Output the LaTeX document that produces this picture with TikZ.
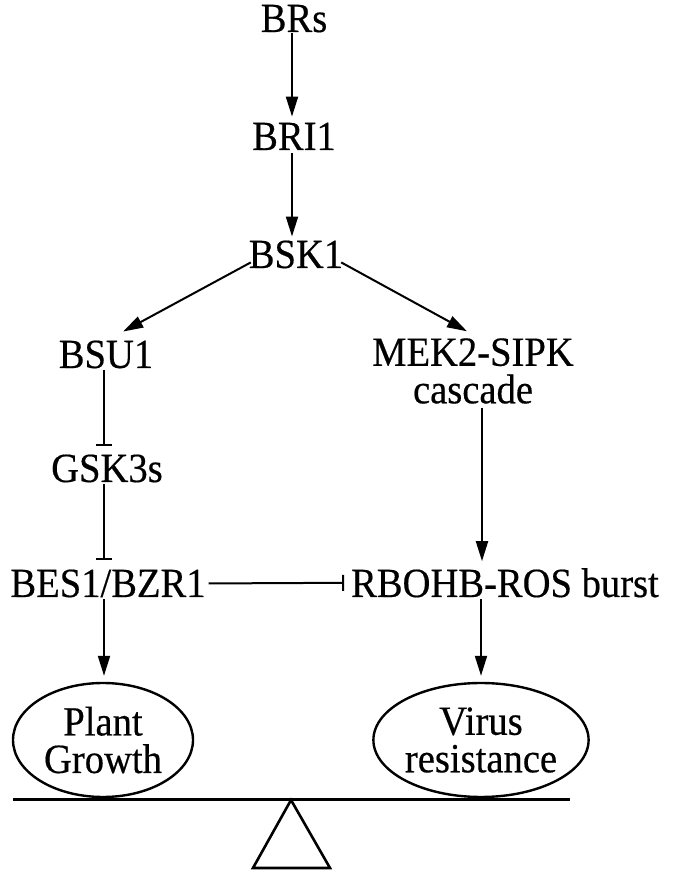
\documentclass[tikz,border=0pt]{standalone}
\usepackage{fontspec}
\setmainfont{Liberation Serif}[FakeStretch=0.93,FakeBold=0.4]
\usetikzlibrary{arrows.meta,shapes.geometric}
\begin{document}
\begin{tikzpicture}[x=1pt,y=1pt,
  lbl/.style={inner sep=0pt, outer sep=0pt, font=\fontsize{41.5}{37.5}\selectfont, anchor=base},
  oval/.style={ellipse, draw, line width=2.4pt, minimum width=180pt, minimum height=114pt, inner sep=0pt, align=center, font=\fontsize{41.5}{37.5}\selectfont},
  act/.style={line width=2pt, -{Triangle[length=20pt,width=12pt]}},
  inh/.style={line width=2pt, -{Bar[width=16pt]}},
  beam/.style={line width=3pt},
  fulcrum/.style={line width=2.6pt, line join=miter},
]
\useasboundingbox (0,0) rectangle (675,873);
% text nodes
\node[lbl] (brs) at (294,841) {BRs};
\node[lbl] (bri1) at (294,723) {BRI1};
\node[lbl] (bsk1) at (296,605) {BSK1};
\node[lbl] (bsu1) at (106,505) {BSU1};
\node[lbl, anchor=center, align=center] (mek) at (473,502) {MEK2-SIPK\\cascade};
\node[lbl] (gsk) at (107,391) {GSK3s};
\node[lbl] (bes) at (108,276) {BES1/BZR1};
\node[lbl] (rb) at (505,276) {RBOHB-ROS burst};
\node[oval] (pg) at (103,133) {Plant\\Growth};
\node[oval, minimum width=178pt] (vr) at (481,133) {Virus\\resistance};
% connectors
\draw[act] ([xshift=-2pt,yshift=-1pt]brs.south) -- ([xshift=-2pt,yshift=6pt]bri1.north);
\draw[act] ([xshift=-2pt,yshift=-3pt]bri1.south) -- ([xshift=-4pt,yshift=4pt]bsk1.north);
\draw[act] ([xshift=2pt,yshift=6pt]bsk1.south west) -- ([xshift=-30pt,yshift=9pt]bsu1.north east);
\draw[act] ([xshift=-2pt,yshift=6pt]bsk1.south east) -- ([xshift=-6pt,yshift=7pt]mek.north);
\draw[inh] ([xshift=-2pt,yshift=-2pt]bsu1.south) -- ([xshift=-3pt,yshift=9pt]gsk.north);
\draw[inh] ([xshift=-3pt,yshift=-2pt]gsk.south) -- ([xshift=-4pt,yshift=10pt]bes.north);
\draw[act] ([xshift=-4pt,yshift=-2pt]bes.south) -- ([xshift=1pt,yshift=6pt]pg.north);
\draw[inh] ([xshift=3pt]bes.east) -- ([xshift=-7pt]rb.west);
\draw[act] ([xshift=9pt,yshift=-4pt]mek.south) -- ([xshift=-23pt,yshift=7pt]rb.north);
\draw[act] ([xshift=-24pt,yshift=-2pt]rb.south) -- ([yshift=6pt]vr.north);
% balance
\coordinate (bl) at (13,73);
\coordinate (br) at (570,73);
\coordinate (apex) at (291,73);
\coordinate (baseL) at (253,5);
\coordinate (baseR) at (330,5);
\draw[beam] (bl) -- (br);
\draw[fulcrum] (apex) -- (baseL) -- (baseR) -- cycle;
\end{tikzpicture}
\end{document}
